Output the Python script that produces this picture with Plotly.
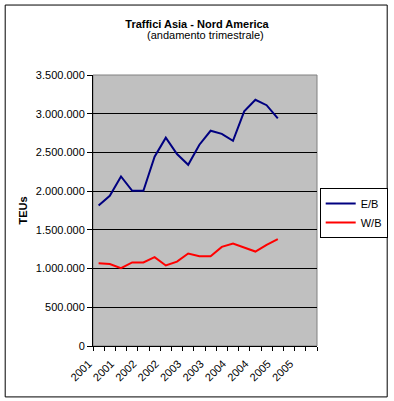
import plotly.graph_objects as go

# Quarterly traffic (TEUs), Q1 2001 .. Q1 2005
quarter_labels = ["I 2001", "II 2001", "III 2001", "IV 2001",
                  "I 2002", "II 2002", "III 2002", "IV 2002",
                  "I 2003", "II 2003", "III 2003", "IV 2003",
                  "I 2004", "II 2004", "III 2004", "IV 2004",
                  "I 2005", "II 2005", "III 2005", "IV 2005"]
eb_values = [1815000, 1940000, 2190000, 2005000, 2005000, 2445000, 2690000,
             2480000, 2340000, 2600000, 2780000, 2740000, 2650000, 3030000,
             3180000, 3110000, 2940000]
wb_values = [1070000, 1058000, 1006000, 1080000, 1080000, 1148000, 1040000,
             1090000, 1195000, 1160000, 1160000, 1280000, 1324000, 1270000,
             1220000, 1307000, 1380000]
tick_labels = ["2001", "2001", "2002", "2002", "2003", "2003", "2004", "2004", "2005", "2005"]
y_ticks = [0, 500000, 1000000, 1500000, 2000000, 2500000, 3000000, 3500000]

W, H = 394, 401
L, R, T, B = 93.3, 317.3, 75.3, 345.7
pw, ph = R - L, B - T

def px_x(p):
    return (p - L) / pw

def px_y(p):
    return (B - p) / ph

FONT = "Liberation Sans, Arial, sans-serif"

fig = go.Figure()
fig.add_trace(go.Scatter(x=list(range(len(eb_values))), y=eb_values, mode="lines",
                         name="E/B", line=dict(color="#000080", width=2)))
fig.add_trace(go.Scatter(x=list(range(len(wb_values))), y=wb_values, mode="lines",
                         name="W/B", line=dict(color="#FF0000", width=2)))

fig.update_layout(
    width=W, height=H,
    margin=dict(l=L, r=W - R, t=T, b=H - B, pad=0, autoexpand=False),
    paper_bgcolor="white", plot_bgcolor="#C0C0C0",
    separators=",.",
    font=dict(family=FONT, size=11, color="black"),
    title=dict(text="<b>Traffici Asia - Nord America</b>", x=0.5, xref="container",
               xanchor="center", y=1 - 24 / H, yanchor="middle", yref="container",
               font=dict(size=11)),
    showlegend=True,
    legend=dict(x=px_x(320), y=px_y(188), xanchor="left", yanchor="top",
                bordercolor="black", borderwidth=1, bgcolor="white",
                font=dict(size=11), itemwidth=30, tracegroupgap=0),
    xaxis=dict(range=[-0.5, len(quarter_labels) - 0.5], showgrid=False, zeroline=False,
               tickmode="array", tickvals=list(range(0, len(quarter_labels), 2)),
               ticktext=tick_labels, tickangle=-45, ticks="outside", ticklen=6,
               tickcolor="rgba(0,0,0,0)", ticklabelshift=-10,
               showline=True, linecolor="black", linewidth=1,
               tickfont=dict(size=11),
               minor=dict(tick0=-0.5, dtick=1, ticks="outside", ticklen=4,
                          tickcolor="black", showgrid=False)),
    yaxis=dict(range=[0, 3500000], tickvals=y_ticks, tickformat=",d",
               showgrid=True, gridcolor="black", gridwidth=1, zeroline=False,
               ticks="outside", ticklen=5, tickcolor="black",
               showline=True, linecolor="black", linewidth=1,
               tickfont=dict(size=11),
               title=dict(text="<b>TEUs</b>", font=dict(size=11), standoff=6)),
    annotations=[dict(text="(andamento trimestrale)", x=0.5, xref="paper",
                      y=px_y(35.5), yref="paper", xanchor="center", yanchor="middle",
                      showarrow=False, font=dict(size=11))],
    shapes=[
        dict(type="rect", xref="paper", yref="paper", x0=0, x1=1, y0=0, y1=1,
             line=dict(color="#808080", width=1), layer="below"),
        dict(type="rect", xref="paper", yref="paper",
             x0=px_x(5.5), x1=px_x(387.5), y0=px_y(396.5), y1=px_y(5.5),
             line=dict(color="black", width=1), layer="above"),
    ],
)

fig.write_html("out.html", config={"displayModeBar": False},
               post_script="document.body.style.margin='0';document.body.style.overflow='hidden';")
